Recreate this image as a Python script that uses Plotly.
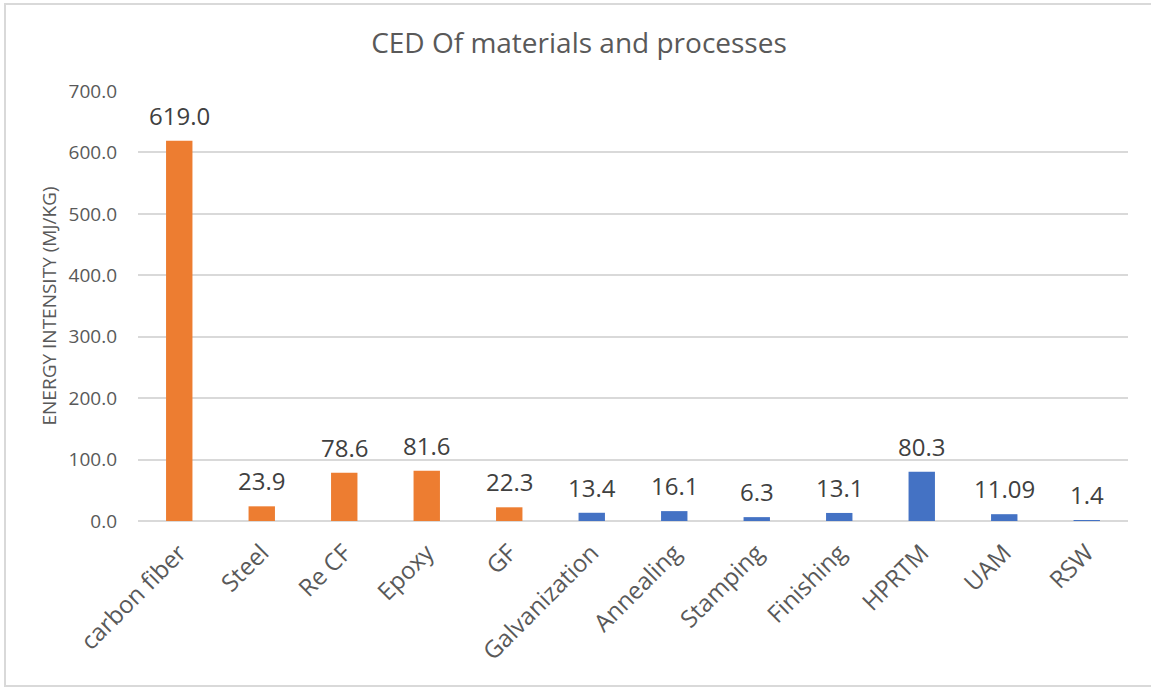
import plotly.graph_objects as go

categories = ["carbon fiber", "Steel", "Re CF", "Epoxy", "GF", "Galvanization",
              "Annealing", "Stamping", "Finishing", "HPRTM", "UAM", "RSW"]
values = [619.0, 23.9, 78.6, 81.6, 22.3, 13.4, 16.1, 6.3, 13.1, 80.3, 11.09, 1.4]
labels = ["619.0", "23.9", "78.6", "81.6", "22.3", "13.4", "16.1", "6.3", "13.1", "80.3", "11.09", "1.4"]
groups = ["material"] * 5 + ["process"] * 7
y_ticks = [0, 100, 200, 300, 400, 500, 600, 700]

color_map = {"material": "#ED7D31", "process": "#4472C4"}
text_color = "#595959"
font_family = "Open Sans, Lato, sans-serif"

fig = go.Figure()
fig.add_trace(go.Bar(
    x=categories, y=values,
    marker=dict(color=[color_map[g] for g in groups], line=dict(width=0)),
    width=0.32,
    showlegend=False,
))

for c, v, t in zip(categories, values, labels):
    fig.add_annotation(x=c, y=v, text=t, showarrow=False, yanchor="bottom",
                       yshift=7, font=dict(size=24, color="#404040", family=font_family))

W, H = 1151, 687
ml, mr, mt, mb = 138, 23, 91, 166
pw, ph = W - ml - mr, H - mt - mb

fig.add_shape(type="rect", xref="paper", yref="paper",
              x0=(5 - ml) / pw, x1=(W + 5 - ml) / pw,
              y0=(H - mb - 686) / ph, y1=(H - mb - 4) / ph,
              line=dict(color="#D9D9D9", width=2), layer="below")

fig.update_layout(
    width=W, height=H,
    margin=dict(l=ml, r=mr, t=mt, b=mb),
    paper_bgcolor="white", plot_bgcolor="white",
    title=dict(text="CED Of materials and processes", x=0.503, xanchor="center",
               y=1 - 43 / H, yanchor="middle",
               font=dict(size=28, color=text_color, family=font_family)),
    font=dict(family=font_family, color=text_color),
    xaxis=dict(tickangle=-45, tickfont=dict(size=24, color=text_color),
               showline=False, showgrid=False, ticks="", ticklabelstandoff=12),
    yaxis=dict(range=[0, 700], tickvals=y_ticks, tickformat=".1f",
               tickfont=dict(size=19, color=text_color),
               gridcolor="#D9D9D9", gridwidth=1.5, zeroline=True,
               zerolinecolor="#D9D9D9", zerolinewidth=1.5,
               ticks="", ticklabelstandoff=20,
               title=dict(text="ENERGY INTENSITY (MJ/KG)", standoff=6,
                          font=dict(size=19, color=text_color))),
)

fig.write_html("out.html")
